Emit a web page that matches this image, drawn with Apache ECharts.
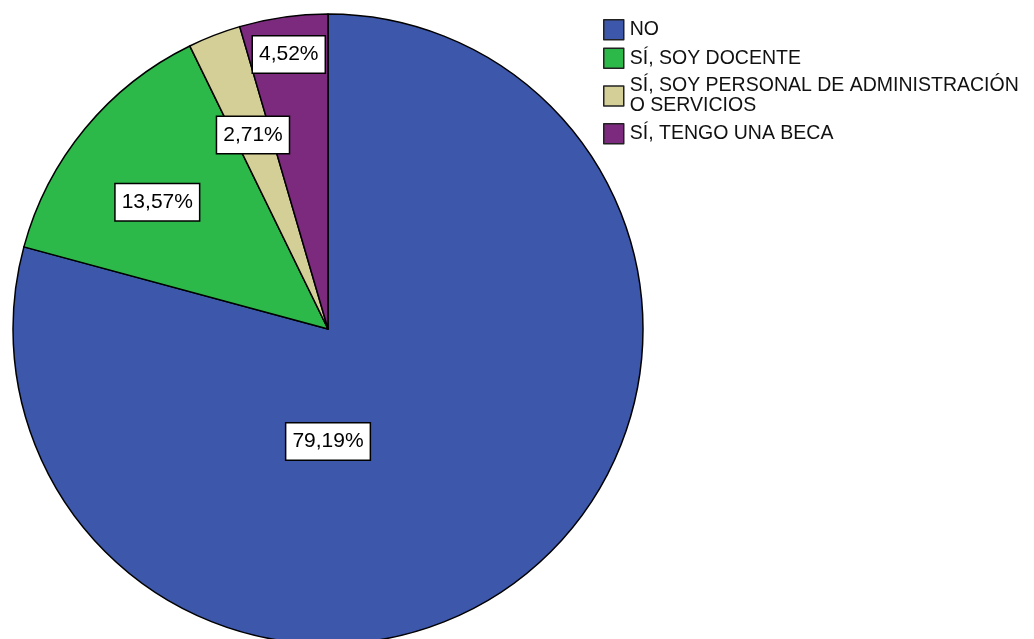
<!DOCTYPE html>
<html>
<head>
<meta charset="utf-8">
<script src="https://cdn.jsdelivr.net/npm/echarts@6/dist/echarts.min.js"></script>
<style>
html,body{margin:0;padding:0;background:#fff;}
#chart{width:1034px;height:639px;}
</style>
</head>
<body>
<div id="chart"></div>
<script>
var categories = ['NO', 'SÍ, SOY DOCENTE', 'SÍ, SOY PERSONAL DE ADMINISTRACIÓN\nO SERVICIOS', 'SÍ, TENGO UNA BECA'];
var percentages = [79.19, 13.57, 2.71, 4.52];
var colors = ['#3D57AB', '#2DB84A', '#D4CE97', '#7C2A7E'];

// label placement style: fraction of radius, optional fixed angle (degrees clockwise from top)
var labelRadiusFrac = [0.357, 0.675, 0.66, 0.88];
var labelAngleOverride = [180, 306.6, null, null];

var CX = 328, CY = 329, R = 315;

var total = percentages.reduce(function(a, b){ return a + b; }, 0);
var midAngles = [];
var acc = 0;
percentages.forEach(function(v){
  midAngles.push((acc + v / 2) / total * 360);
  acc += v;
});

var chart = echarts.init(document.getElementById('chart'), null, {renderer: 'canvas'});
chart.setOption({
  animation: false,
  backgroundColor: '#fff',
  color: colors,
  legend: {
    orient: 'vertical',
    left: 598,
    top: 14,
    itemWidth: 20,
    itemHeight: 20,
    itemGap: 7,
    icon: 'rect',
    itemStyle: {borderColor: '#222', borderWidth: 1.5},
    textStyle: {fontFamily: 'Liberation Sans, Arial, sans-serif', fontSize: 19.5, color: '#111', lineHeight: 20, padding: [0, 0, 0, 1]},
    data: categories
  },
  series: [{
    type: 'pie',
    center: [CX, CY],
    radius: R,
    startAngle: 90,
    clockwise: true,
    avoidLabelOverlap: false,
    itemStyle: {borderColor: '#000', borderWidth: 1.5},
    emphasis: {disabled: true},
    label: {
      show: true,
      position: 'inside',
      formatter: function(p){ return p.value.toFixed(2).replace('.', ',') + '%'; },
      fontFamily: 'Liberation Sans, Arial, sans-serif',
      fontSize: 21,
      lineHeight: 24,
      color: '#000',
      backgroundColor: '#fff',
      borderColor: '#000',
      borderWidth: 1.5,
      padding: [6, 6, 6, 6]
    },
    labelLine: {show: false},
    labelLayout: function(params){
      var i = params.dataIndex;
      var ang = labelAngleOverride[i] != null ? labelAngleOverride[i] : midAngles[i];
      var rad = ang * Math.PI / 180;
      var rr = R * labelRadiusFrac[i];
      return {
        x: CX + rr * Math.sin(rad),
        y: CY - rr * Math.cos(rad),
        align: 'center',
        verticalAlign: 'middle'
      };
    },
    data: categories.map(function(c, i){ return {name: c, value: percentages[i]}; })
  }]
});
</script>
</body>
</html>
